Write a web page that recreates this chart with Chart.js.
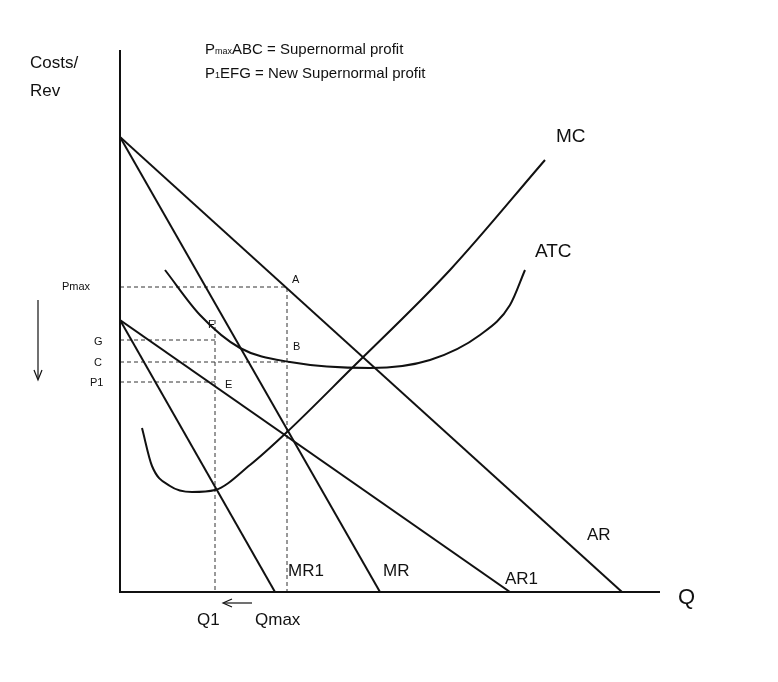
<!DOCTYPE html>
<html><head><meta charset="utf-8">
<script src="https://cdn.jsdelivr.net/npm/chart.js@4"></script>
<style>html,body{margin:0;background:#fff}#wrap{width:778px;height:682px}</style>
</head><body><div id="wrap"><canvas id="c"></canvas></div>
<script>
// data units: x = px - 120, y = 592 - py
const AR  = [{x:0,y:455},{x:502,y:0}];
const MR  = [{x:0,y:455},{x:260,y:0}];
const AR1 = [{x:0,y:272},{x:390,y:0}];
const MR1 = [{x:0,y:272},{x:155,y:0}];
const MC  = [{x:22,y:164},{x:32,y:126},{x:50,y:106},{x:72,y:100},{x:95,y:102},{x:130,y:127},{x:167,y:160},{x:230,y:222},{x:330,y:322},{x:425,y:432}];
const ATC = [{x:45,y:322},{x:80,y:277},{x:120,y:244},{x:170,y:230},{x:250,y:224},{x:310,y:232},{x:360,y:257},{x:390,y:287},{x:405,y:322}];
const dashPmax = [{x:0,y:305},{x:167,y:305},{x:167,y:0}];
const dashG  = [{x:0,y:252},{x:95,y:252}];
const dashC  = [{x:0,y:230},{x:170,y:230}];
const dashP1 = [{x:0,y:210},{x:95,y:210}];
const dashQ1 = [{x:95,y:272},{x:95,y:0}];

const solid = (d) => ({data:d, showLine:true, borderColor:'#111', borderWidth:2, pointRadius:0, fill:false});
const curve = (d) => ({...solid(d), tension:0.4, cubicInterpolationMode:'monotone'});
const dash  = (d) => ({data:d, showLine:true, borderColor:'#333', borderWidth:1, borderDash:[4,3], pointRadius:0, fill:false});

const labels = [
  ['Costs/',30,68,17],['Rev',30,96,17],
  ['A',292,283,11],['B',293,350,11],['F',208,328,11],['E',225,388,11],
  ['G',94,345,11],['C',94,366,11],['P1',90,386,11],['Pmax',62,290,11],
  ['MC',556,142,19],['ATC',535,257,19],['AR',587,540,17],['AR1',505,584,17],
  ['MR',383,576,17],['MR1',288,576,17],['Q',678,604,22],['Q1',197,625,17],['Qmax',255,625,17]
];

const decor = {
  id:'decor',
  afterDraw(ch){
    const c = ch.ctx;
    c.save();
    c.strokeStyle='#111'; c.fillStyle='#111'; c.lineWidth=2;
    c.beginPath(); c.moveTo(120,50); c.lineTo(120,592); c.lineTo(660,592); c.stroke();
    c.lineWidth=1.2;
    c.beginPath(); c.moveTo(38,300); c.lineTo(38,378); c.stroke();
    c.beginPath(); c.moveTo(34,370); c.lineTo(38,380); c.lineTo(42,370); c.stroke();
    c.beginPath(); c.moveTo(252,603); c.lineTo(224,603); c.stroke();
    c.beginPath(); c.moveTo(232,599); c.lineTo(223,603); c.lineTo(232,607); c.stroke();
    c.textBaseline='alphabetic';
    labels.forEach(([t,x,y,s])=>{ c.font=s+'px "Liberation Sans", Arial'; c.fillText(t,x,y); });
    const sub = (p,sb,rest,x,y) => {
      c.font='15px "Liberation Sans", Arial'; c.fillText(p,x,y); let w=c.measureText(p).width;
      c.font='9px "Liberation Sans", Arial'; c.fillText(sb,x+w,y); w+=c.measureText(sb).width;
      c.font='15px "Liberation Sans", Arial'; c.fillText(rest,x+w,y);
    };
    sub('P','max','ABC = Supernormal profit',205,54);
    sub('P','1','EFG = New Supernormal profit',205,78);
    c.restore();
  }
};

new Chart(document.getElementById('c'), {
  type:'scatter',
  data:{datasets:[solid(AR),solid(MR),solid(AR1),solid(MR1),curve(MC),curve(ATC),
    dash(dashPmax),dash(dashG),dash(dashC),dash(dashP1),dash(dashQ1)]},
  options:{
    responsive:true, maintainAspectRatio:false, animation:false,
    layout:{padding:{left:120,right:98,top:47,bottom:90}},
    plugins:{legend:{display:false},tooltip:{enabled:false}},
    scales:{
      x:{type:'linear',min:0,max:560,display:false},
      y:{type:'linear',min:0,max:545,display:false}
    }
  },
  plugins:[decor]
});
</script></body></html>
